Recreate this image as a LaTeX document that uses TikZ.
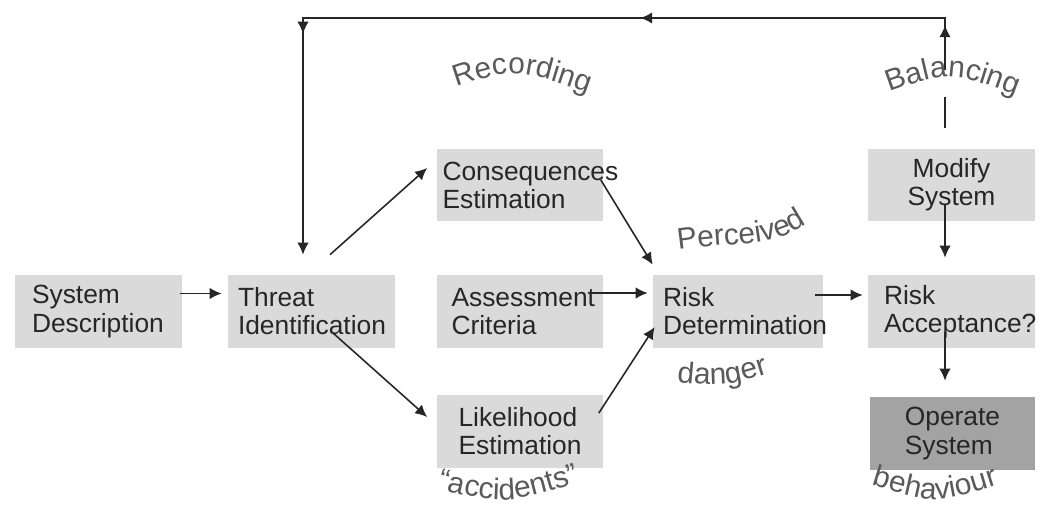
\documentclass[tikz,border=0pt]{standalone}
\usepackage{fontspec}
\setmainfont{Liberation Sans}
\usetikzlibrary{arrows.meta,decorations.markings,decorations.text}
\definecolor{boxfill}{HTML}{DADADA}
\definecolor{opfill}{HTML}{A3A3A3}
\definecolor{inkcol}{HTML}{262626}
\definecolor{labelcol}{HTML}{5A5A5A}
\newcommand{\boxfont}{\fontsize{15}{16}\selectfont\color{inkcol}}
\newcommand{\curvefont}{\fontsize{17}{17}\selectfont\color{labelcol}}
\hyphenpenalty=10000
\tikzset{
  box/.style={rectangle, fill=boxfill, minimum width=3.34cm, minimum height=1.46cm,
    inner sep=0pt, align=left, font=\boxfont},
  line/.style={draw=inkcol, line width=0.9pt},
  tip/.style={-{Latex[length=2.4mm,width=2.3mm]}},
  flow/.style={line, tip},
  curved/.style={decorate, decoration={text along path, text align=center,
    text={|\curvefont|#1}}}
}
\begin{document}
\begin{tikzpicture}[x=0.02cm,y=-0.02cm]
            \useasboundingbox (0,0) rectangle (1040,507);
            % boxes
            \node[box, text width=2.66cm] (sys) at (98.5,311.5) {System\\Description};
            \node[box, text width=2.94cm] (threat) at (311.5,311.5) {Threat\\Identification};
            \node[box, text width=3.1cm] (cons) at (520,185) {Consequences\\Estimation};
            \node[box, text width=2.74cm] (assess) at (520,311.5) {Assessment\\Criteria};
            \node[box, text width=2.46cm] (like) at (520,431.5) {Likelihood\\Estimation};
            \node[box, minimum width=3.4cm, text width=3cm] (risk) at (738,311.5) {Risk\\Determination};
            \node[box, align=center] (modify) at (951.5,185) {Modify\\System};
            \node[box, text width=2.7cm] (accept) at (951.5,311.5) {Risk\\Acceptance?};
            \node[box, fill=opfill, minimum width=3.3cm] (operate) at (952.5,433.5) {Operate\\System};
            % arrows between boxes
            \draw[flow] ([shift={(-2,-18)}]sys.east) -- ([shift={(-6,-18)}]threat.west);
            \draw[flow] ([shift={(18.5,-20)}]threat.north) -- ([shift={(-9,-17)}]cons.west);
            \draw[flow] ([shift={(21.5,21.5)}]threat.center) -- ([shift={(-9,-14.5)}]like.west);
            \draw[flow] ([shift={(-3,-5)}]cons.east) -- ([shift={(0,-10)}]risk.north west);
            \draw[flow] ([shift={(-13,-18.5)}]assess.east) -- ([shift={(-5,-18.5)}]risk.west);
            \draw[flow] ([shift={(-5,-18.5)}]like.east) -- ([shift={(2,15.5)}]risk.west);
            \draw[flow] ([shift={(-8,-16.5)}]risk.east) -- ([shift={(-5,-16.5)}]accept.west);
            \draw[flow] ([shift={(-6.5,-17)}]modify.south) -- ([shift={(-6.5,-17)}]accept.north);
            \draw[flow] ([shift={(-6.5,-16)}]accept.south) -- ([shift={(-7.5,-16)}]operate.north);
            % feedback loop
            \coordinate (loop) at (624,18);
            \draw[line] ([shift={(-6.5,-20)}]modify.north) -- ++(0,-31);
            \draw[flow, postaction={decorate}, decoration={markings,
                mark=at position 0.9cm with {\arrow{Latex[length=2.4mm,width=2.3mm]}},
                mark=at position 7.14cm with {\arrow{Latex[length=2.4mm,width=2.3mm]}},
                mark=at position 14.2cm with {\arrow{Latex[length=2.4mm,width=2.3mm]}}}]
              ([shift={(-6.5,-78)}]modify.north) |- (loop) -| ([shift={(-8.5,-20)}]threat.north);
            % curved labels
            \path[curved=Recording] (445,91) .. controls (515,67) .. (600,97);
            \path[curved=Balancing] (878,96) .. controls (950,70) .. (1028,100);
            \path[curved=Perceived] (672,251) .. controls (740,240) and (775,250) .. (812,220);
            \path[curved=danger] (665,381) .. controls (725,387) .. (780,370);
            \path[curved=“accidents”] (430,487) .. controls (505,505) .. (587,480);
            \path[curved=behaviour] (862,482) .. controls (935,505) .. (1008,482);
        \end{tikzpicture}
\end{document}
